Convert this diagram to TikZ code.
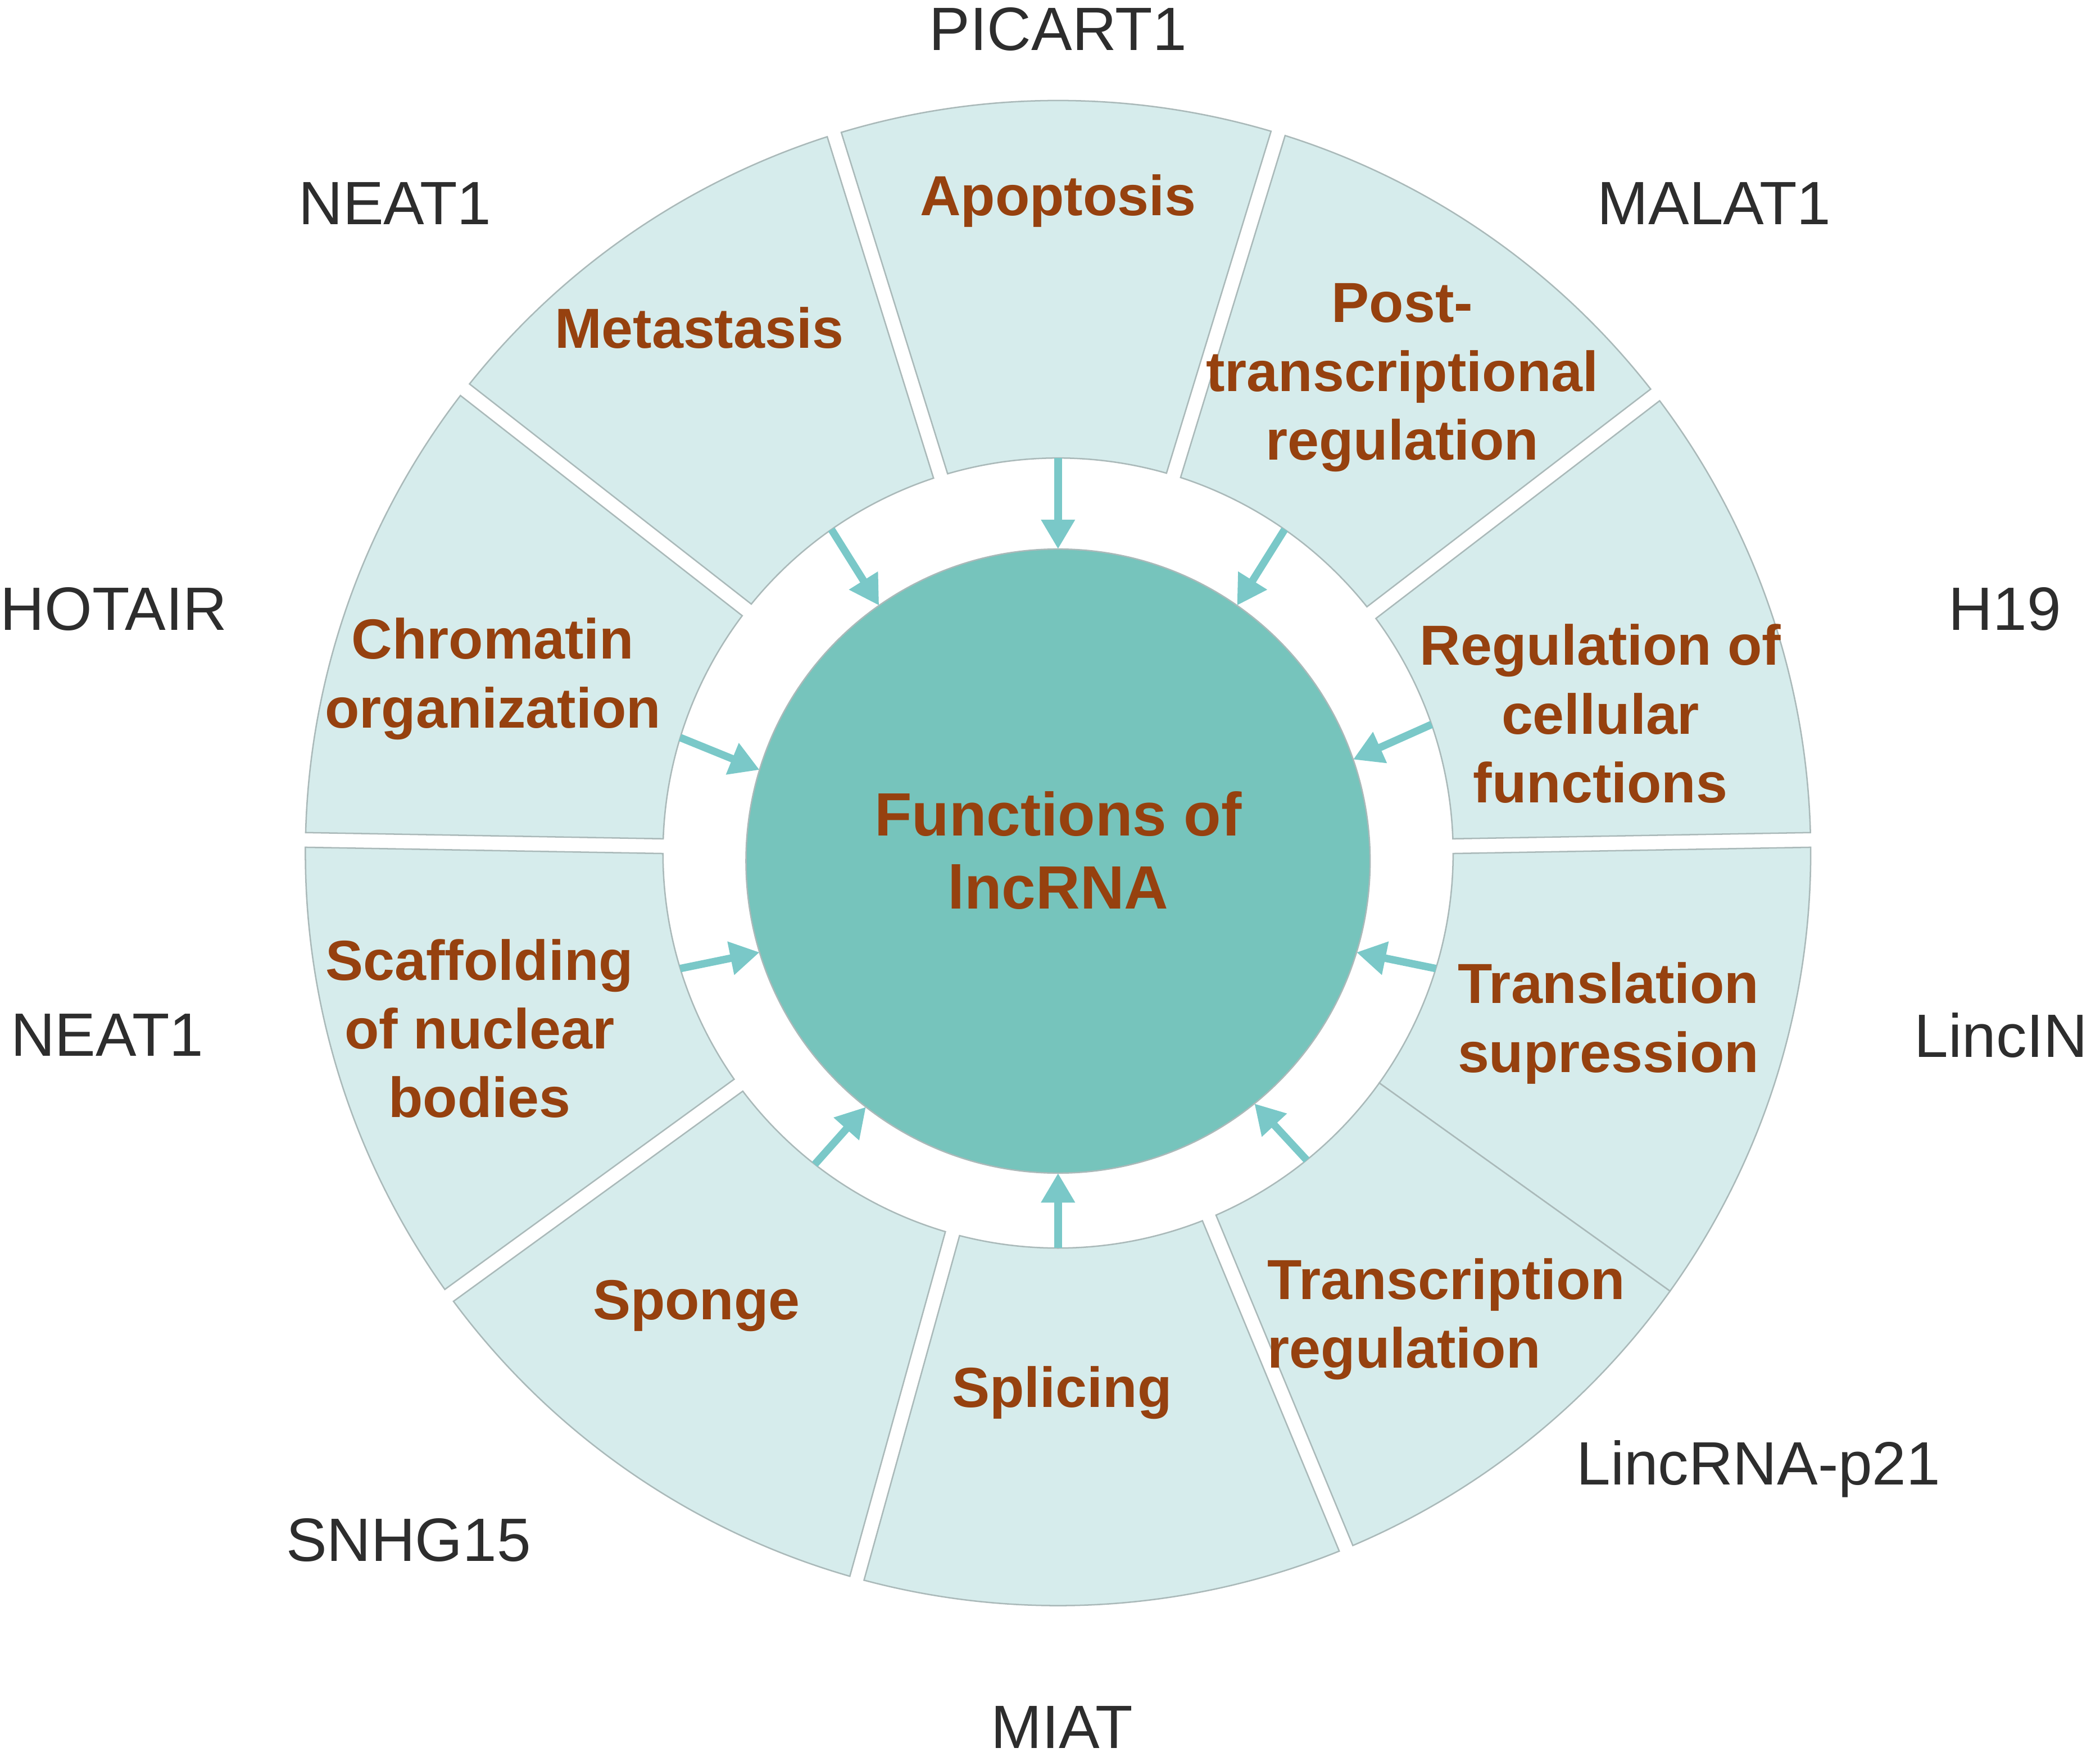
\documentclass[tikz,border=0pt]{standalone}
\usepackage{fontspec}
\setmainfont{Liberation Sans}
\usepackage{xcolor}
\usepackage{tikz}
\usetikzlibrary{arrows.meta,positioning}
\definecolor{ringteal}{RGB}{214,236,236}
\definecolor{hubteal}{RGB}{118,196,188}
\definecolor{feedteal}{RGB}{122,200,200}
\definecolor{edgegray}{RGB}{170,185,185}
\definecolor{funcbrown}{RGB}{150,65,15}
\definecolor{genegray}{RGB}{45,45,45}

\begin{document}
\begin{tikzpicture}[
    seg/.style={fill=ringteal, draw=edgegray, line width=0.3pt},
    func/.style={text=funcbrown, font=\fontsize{12}{14.6}\selectfont\bfseries, align=center},
    gene/.style={text=genegray, font=\fontsize{13}{15}\selectfont},
    feed/.style={-{Triangle[width=2.4mm,length=2.2mm]}, feedteal, line width=1.6pt}
]
\useasboundingbox (-7.90,-6.75) rectangle (7.78,6.37);
\def\ro{5.62}
\def\ri{2.95}
% ring of segments: start/end angle and half gap at each side
\foreach \a/\b/\ha/\hb in {
    -35.6/1/0/0.055, 1/37.5/0.055/0.055, 37.5/73/0.055/0.055,
    73/107.3/0.055/0.055, 107.3/142/0.055/0.055, 142/179/0.055/0.055,
    179/216/0.055/0.055, 216/254.5/0.055/0.055, 254.5/292.5/0.055/0.055,
    292.5/324.4/0.055/0} {
    \path[seg] ({\a+asin(\ha/\ro)}:\ro)
        arc[start angle={\a+asin(\ha/\ro)}, end angle={\b-asin(\hb/\ro)}, radius=\ro]
        -- ({\b-asin(\hb/\ri)}:\ri)
        arc[start angle={\b-asin(\hb/\ri)}, end angle={\a+asin(\ha/\ri)}, radius=\ri]
        -- cycle;
}
% central circle
\node[circle, fill=hubteal, draw=edgegray, line width=0.3pt, minimum size=4.66cm,
      inner sep=0pt, outer sep=0pt] (hub) at (0,-0.06) {};
\node[text=funcbrown, font=\fontsize{13}{15.6}\selectfont\bfseries, align=center]
      (title) at (0,0.02) {Functions of\\lncRNA};
% arrows into the circle
\foreach \ang in {90,55,19,343,309,270,232,197,163,125} {
    \coordinate (f\ang) at (\ang:\ri);
    \draw[feed] (f\ang) -- (hub.\ang);
}
% functions
\node[func] (apop) at (0,4.87) {Apoptosis};
\node[func] (meta) at (-2.68,3.92) {Metastasis};
\node[func] (post) at (2.57,3.55) {Post-\\transcriptional\\regulation};
\node[func] (chrom) at (-4.22,1.30) {Chromatin\\organization};
\node[func] (cell) at (4.05,1.04) {Regulation of\\cellular\\functions};
\node[func] (scaf) at (-4.32,-1.31) {Scaffolding\\of nuclear\\bodies};
\node[func, align=left, anchor=west] (trans) at (2.86,-1.27) {Translation\\supression};
\node[func] (spon) at (-2.70,-3.38) {Sponge};
\node[func] (splic) at (0.03,-4.03) {Splicing};
\node[func, align=left, anchor=west] (tscr) at (1.44,-3.48) {Transcription\\regulation};
% lncRNA names
\node[gene] (picart) at (0,6.15) {PICART1};
\node[gene] (malat) at (4.90,4.85) {MALAT1};
\node[gene] (neatA) at (-4.95,4.85) {NEAT1};
\node[gene] (hotair) at (-7.05,1.82) {HOTAIR};
\node[gene] (hnine) at (7.07,1.82) {H19};
\node[gene] (neatB) at (-7.10,-1.36) {NEAT1};
\node[gene, anchor=west] (lincin) at (6.27,-1.36) {LincIN};
\node[gene] (lincp) at (5.23,-4.60) {LincRNA-p21};
\node[gene] (snhg) at (-4.85,-5.13) {SNHG15};
\node[gene] (miat) at (0.03,-6.53) {MIAT};
\end{tikzpicture}
\end{document}
